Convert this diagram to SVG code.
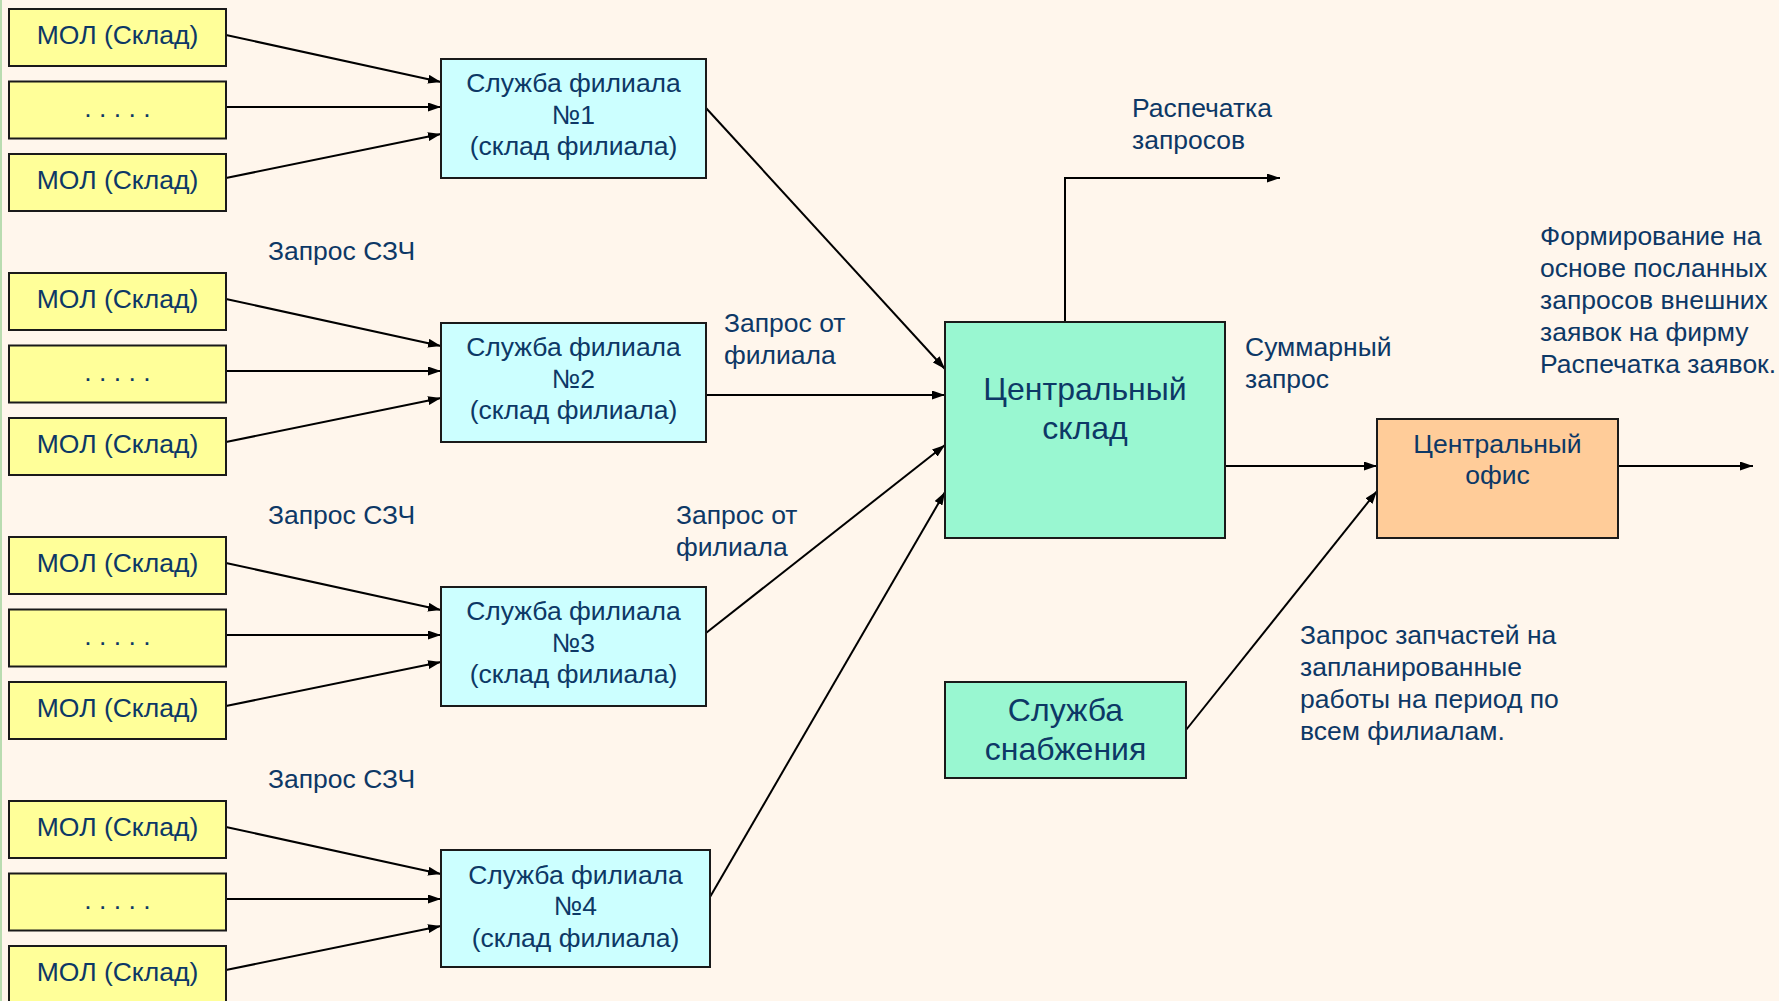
<svg xmlns="http://www.w3.org/2000/svg" width="1779" height="1001" viewBox="0 0 1779 1001">
  <style>
    text { font-family: "Liberation Sans", Arial, sans-serif; fill: #0d3866; }
    .c { text-anchor: middle; }
    .t25 { font-size: 26.5px; }
    .t31 { font-size: 32px; }
    .box { stroke: #1a1a1a; stroke-width: 2; }
    .mol { fill: #ffff99; }
    .br { fill: #ccffff; }
    .gr { fill: #99f7d1; }
    .or { fill: #ffcc99; }
    .ln { stroke: #000; stroke-width: 2; fill: none; marker-end: url(#ah); }
  </style>
  <defs>
    <marker id="ah" viewBox="0 0 13 9" refX="13" refY="4.5" markerWidth="13" markerHeight="9" markerUnits="userSpaceOnUse" orient="auto">
      <path d="M0,0 L13,4.5 L0,9 z" fill="#000"/>
    </marker>
  </defs>

  <rect width="1779" height="1001" fill="#fff6ec"/>
  <rect x="0" y="0" width="2" height="1001" fill="#b9dcb0"/>

  <!-- connectors -->
  <g id="connectors">
    <!-- group 1 -->
    <line class="ln" x1="226" y1="35" x2="441" y2="82"/>
    <line class="ln" x1="226" y1="107" x2="441" y2="107"/>
    <line class="ln" x1="226" y1="178" x2="441" y2="134"/>
    <!-- group 2 -->
    <line class="ln" x1="226" y1="299" x2="441" y2="346"/>
    <line class="ln" x1="226" y1="371" x2="441" y2="371"/>
    <line class="ln" x1="226" y1="442" x2="441" y2="398"/>
    <!-- group 3 -->
    <line class="ln" x1="226" y1="563" x2="441" y2="610"/>
    <line class="ln" x1="226" y1="635" x2="441" y2="635"/>
    <line class="ln" x1="226" y1="706" x2="441" y2="662"/>
    <!-- group 4 -->
    <line class="ln" x1="226" y1="827" x2="441" y2="874"/>
    <line class="ln" x1="226" y1="899" x2="441" y2="899"/>
    <line class="ln" x1="226" y1="970" x2="441" y2="926"/>
    <!-- branches to central warehouse -->
    <line class="ln" x1="706" y1="108" x2="945" y2="369"/>
    <line class="ln" x1="706" y1="395" x2="945" y2="395"/>
    <line class="ln" x1="706" y1="633" x2="945" y2="445"/>
    <line class="ln" x1="710" y1="897" x2="945" y2="492"/>
    <!-- central outputs -->
    <polyline class="ln" points="1065,322 1065,178 1280,178"/>
    <line class="ln" x1="1225" y1="466" x2="1377" y2="466"/>
    <line class="ln" x1="1618" y1="466" x2="1753" y2="466"/>
    <line class="ln" x1="1186" y1="730" x2="1377" y2="491"/>
  </g>

  <!-- storekeepers, group 1 -->
  <g id="mol-1a"><rect class="box mol" x="9" y="9" width="217" height="57"/><text class="c t25" x="117.5" y="44">МОЛ (Склад)</text></g>
  <g id="mol-1b"><rect class="box mol" x="9" y="81.5" width="217" height="57"/><text class="c t25" x="117.5" y="116.5">. . . . .</text></g>
  <g id="mol-1c"><rect class="box mol" x="9" y="154" width="217" height="57"/><text class="c t25" x="117.5" y="189">МОЛ (Склад)</text></g>
  <!-- group 2 -->
  <g id="mol-2a"><rect class="box mol" x="9" y="273" width="217" height="57"/><text class="c t25" x="117.5" y="308">МОЛ (Склад)</text></g>
  <g id="mol-2b"><rect class="box mol" x="9" y="345.5" width="217" height="57"/><text class="c t25" x="117.5" y="380.5">. . . . .</text></g>
  <g id="mol-2c"><rect class="box mol" x="9" y="418" width="217" height="57"/><text class="c t25" x="117.5" y="453">МОЛ (Склад)</text></g>
  <!-- group 3 -->
  <g id="mol-3a"><rect class="box mol" x="9" y="537" width="217" height="57"/><text class="c t25" x="117.5" y="572">МОЛ (Склад)</text></g>
  <g id="mol-3b"><rect class="box mol" x="9" y="609.5" width="217" height="57"/><text class="c t25" x="117.5" y="644.5">. . . . .</text></g>
  <g id="mol-3c"><rect class="box mol" x="9" y="682" width="217" height="57"/><text class="c t25" x="117.5" y="717">МОЛ (Склад)</text></g>
  <!-- group 4 -->
  <g id="mol-4a"><rect class="box mol" x="9" y="801" width="217" height="57"/><text class="c t25" x="117.5" y="836">МОЛ (Склад)</text></g>
  <g id="mol-4b"><rect class="box mol" x="9" y="873.5" width="217" height="57"/><text class="c t25" x="117.5" y="908.5">. . . . .</text></g>
  <g id="mol-4c"><rect class="box mol" x="9" y="946" width="217" height="57"/><text class="c t25" x="117.5" y="981">МОЛ (Склад)</text></g>

  <!-- branch services -->
  <g id="branch-1">
    <rect class="box br" x="441" y="59" width="265" height="119"/>
    <text class="c t25" x="573.5" y="92">Служба филиала</text>
    <text class="c t25" x="573.5" y="124">№1</text>
    <text class="c t25" x="573.5" y="155">(склад филиала)</text>
  </g>
  <g id="branch-2">
    <rect class="box br" x="441" y="323" width="265" height="119"/>
    <text class="c t25" x="573.5" y="356">Служба филиала</text>
    <text class="c t25" x="573.5" y="388">№2</text>
    <text class="c t25" x="573.5" y="419">(склад филиала)</text>
  </g>
  <g id="branch-3">
    <rect class="box br" x="441" y="587" width="265" height="119"/>
    <text class="c t25" x="573.5" y="620">Служба филиала</text>
    <text class="c t25" x="573.5" y="652">№3</text>
    <text class="c t25" x="573.5" y="683">(склад филиала)</text>
  </g>
  <g id="branch-4">
    <rect class="box br" x="441" y="850" width="269" height="117"/>
    <text class="c t25" x="575.5" y="884">Служба филиала</text>
    <text class="c t25" x="575.5" y="915">№4</text>
    <text class="c t25" x="575.5" y="947">(склад филиала)</text>
  </g>

  <!-- central warehouse -->
  <g id="central-warehouse">
    <rect class="box gr" x="945" y="322" width="280" height="216"/>
    <text class="c t31" x="1085" y="400">Центральный</text>
    <text class="c t31" x="1085" y="439">склад</text>
  </g>

  <!-- central office -->
  <g id="central-office">
    <rect class="box or" x="1377" y="419" width="241" height="119"/>
    <text class="c t25" x="1497.5" y="453">Центральный</text>
    <text class="c t25" x="1497.5" y="484">офис</text>
  </g>

  <!-- supply service -->
  <g id="supply-service">
    <rect class="box gr" x="945" y="682" width="241" height="96"/>
    <text class="c t31" x="1065.5" y="721">Служба</text>
    <text class="c t31" x="1065.5" y="760">снабжения</text>
  </g>

  <!-- labels -->
  <g id="labels">
    <text class="t25" x="268" y="260">Запрос СЗЧ</text>
    <text class="t25" x="268" y="524">Запрос СЗЧ</text>
    <text class="t25" x="268" y="788">Запрос СЗЧ</text>
    <text class="t25" x="724" y="332">Запрос от</text>
    <text class="t25" x="724" y="364">филиала</text>
    <text class="t25" x="676" y="524">Запрос от</text>
    <text class="t25" x="676" y="556">филиала</text>
    <text class="t25" x="1132" y="117">Распечатка</text>
    <text class="t25" x="1132" y="149">запросов</text>
    <text class="t25" x="1245" y="356">Суммарный</text>
    <text class="t25" x="1245" y="388">запрос</text>
    <text class="t25" x="1540" y="245">Формирование на</text>
    <text class="t25" x="1540" y="277">основе посланных</text>
    <text class="t25" x="1540" y="309">запросов внешних</text>
    <text class="t25" x="1540" y="341">заявок на фирму</text>
    <text class="t25" x="1540" y="373">Распечатка заявок.</text>
    <text class="t25" x="1300" y="644">Запрос запчастей на</text>
    <text class="t25" x="1300" y="676">запланированные</text>
    <text class="t25" x="1300" y="708">работы на период по</text>
    <text class="t25" x="1300" y="740">всем филиалам.</text>
  </g>
</svg>
